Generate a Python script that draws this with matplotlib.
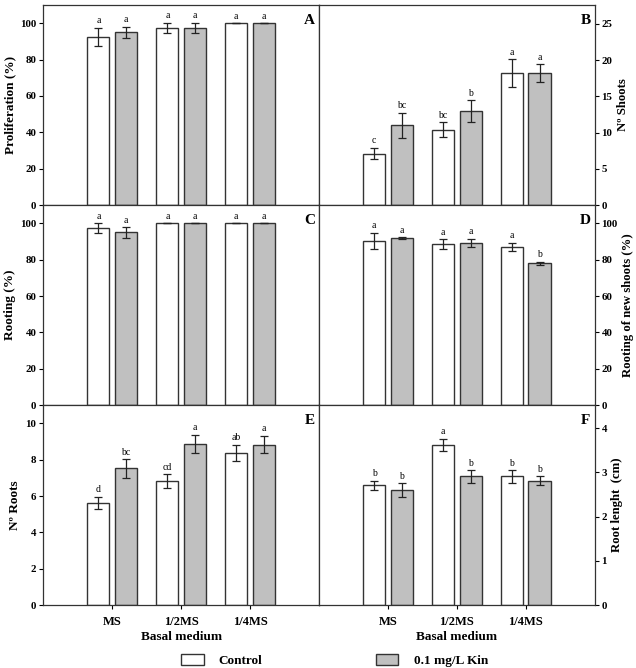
import numpy as np
import matplotlib
matplotlib.use("Agg")
import matplotlib.pyplot as plt
from matplotlib.patches import Patch

plt.rcParams['font.family'] = ['Liberation Serif', 'DejaVu Serif']

media = ["MS", "1/2MS", "1/4MS"]

prolif_ctrl = [92.5, 97.5, 100]
prolif_ctrl_err = [5, 2.7, 0]
prolif_kin = [95, 97.5, 100]
prolif_kin_err = [3, 2.7, 0]
prolif_let = [["a", "a", "a"], ["a", "a", "a"]]

shoots_ctrl = [7.1, 10.4, 18.2]
shoots_ctrl_err = [0.8, 1.05, 1.9]
shoots_kin = [11.0, 13.0, 18.2]
shoots_kin_err = [1.75, 1.5, 1.25]
shoots_let = [["c", "bc", "a"], ["bc", "b", "a"]]

root_ctrl = [97.4, 100, 100]
root_ctrl_err = [2.7, 0, 0]
root_kin = [95, 100, 100]
root_kin_err = [3, 0, 0]
root_let = [["a", "a", "a"], ["a", "a", "a"]]

newroot_ctrl = [90.4, 88.4, 87.1]
newroot_ctrl_err = [4.4, 2.8, 2.2]
newroot_kin = [91.7, 89.3, 78.0]
newroot_kin_err = [0.6, 2.2, 0.9]
newroot_let = [["a", "a", "a"], ["a", "a", "b"]]

nroots_ctrl = [5.63, 6.84, 8.39]
nroots_ctrl_err = [0.33, 0.37, 0.44]
nroots_kin = [7.52, 8.88, 8.83]
nroots_kin_err = [0.5, 0.5, 0.48]
nroots_let = [["d", "cd", "ab"], ["bc", "a", "a"]]

length_ctrl = [2.71, 3.62, 2.91]
length_ctrl_err = [0.1, 0.14, 0.14]
length_kin = [2.60, 2.91, 2.81]
length_kin_err = [0.15, 0.14, 0.1]
length_let = [["b", "a", "b"], ["b", "b", "b"]]

panels = [
    ("A", "Proliferation (%)", prolif_ctrl, prolif_ctrl_err, prolif_kin, prolif_kin_err, prolif_let, 110, np.arange(0, 101, 20)),
    ("B", "Nº Shoots", shoots_ctrl, shoots_ctrl_err, shoots_kin, shoots_kin_err, shoots_let, 27.6, np.arange(0, 26, 5)),
    ("C", "Rooting (%)", root_ctrl, root_ctrl_err, root_kin, root_kin_err, root_let, 110, np.arange(0, 101, 20)),
    ("D", "Rooting of new shoots (%)", newroot_ctrl, newroot_ctrl_err, newroot_kin, newroot_kin_err, newroot_let, 110, np.arange(0, 101, 20)),
    ("E", "Nº Roots", nroots_ctrl, nroots_ctrl_err, nroots_kin, nroots_kin_err, nroots_let, 11, np.arange(0, 11, 2)),
    ("F", "Root lenght  (cm)", length_ctrl, length_ctrl_err, length_kin, length_kin_err, length_let, 4.52, np.arange(0, 5, 1)),
]

fig, axes = plt.subplots(3, 2, figsize=(6.36, 6.68), dpi=100)
fig.subplots_adjust(left=0.068, right=0.935, top=0.9925, bottom=0.094, wspace=0, hspace=0)

x = np.arange(1, 4)
w = 0.32
off = 0.2
edge = "#333333"
gray = "#c0c0c0"

for i, (ax, p) in enumerate(zip(axes.flat, panels)):
    letter, ylab, c, ce, k, ke, lets, ymax, ticks = p
    ax.bar(x - off, c, w, color="white", edgecolor=edge, linewidth=1)
    ax.bar(x + off, k, w, color=gray, edgecolor=edge, linewidth=1)
    ax.errorbar(x - off, c, yerr=ce, fmt="none", ecolor="#222222", elinewidth=0.9, capsize=3, capthick=0.9)
    ax.errorbar(x + off, k, yerr=ke, fmt="none", ecolor="#222222", elinewidth=0.9, capsize=3, capthick=0.9)
    pad = ymax * 0.012
    for j in range(3):
        ax.text(x[j] - off, c[j] + ce[j] + pad, lets[0][j], ha="center", va="bottom", fontsize=7)
        ax.text(x[j] + off, k[j] + ke[j] + pad, lets[1][j], ha="center", va="bottom", fontsize=7)
    ax.set_xlim(0, 4)
    ax.set_ylim(0, ymax)
    ax.set_yticks(ticks)
    ax.set_xticks(x)
    ax.text(0.985, 0.925, letter, transform=ax.transAxes, ha="right", va="center", fontsize=11, fontweight="bold")
    if i % 2 == 1:
        ax.yaxis.tick_right()
        ax.yaxis.set_label_position("right")
        ax.set_ylabel(ylab, fontsize=9.2, fontweight="bold", labelpad=3)
    else:
        ax.set_ylabel(ylab, fontsize=9.5, fontweight="bold", labelpad=3)
    ax.tick_params(axis="both", direction="out", length=3, width=0.8, labelsize=7.8, pad=2)
    for lab in ax.get_yticklabels():
        lab.set_fontweight("bold")
    if i >= 4:
        ax.set_xticklabels(media, fontsize=9, fontweight="bold")
        ax.tick_params(axis="x", pad=5)
        ax.set_xlabel("Basal medium", fontsize=9.5, fontweight="bold", labelpad=2)
    else:
        ax.set_xticklabels([])
    for s in ax.spines.values():
        s.set_color("#333333")
        s.set_linewidth(0.9)

handles = [Patch(facecolor="white", edgecolor=edge, label="Control"),
           Patch(facecolor=gray, edgecolor=edge, label="0.1 mg/L Kin")]
leg = fig.legend(handles=handles, loc="center", bbox_to_anchor=(0.526, 0.0105), ncol=2, frameon=False,
                 prop={"size": 9.5, "weight": "bold"}, columnspacing=8.6, handlelength=1.7,
                 handleheight=0.9, handletextpad=1.15, borderaxespad=0, borderpad=0)

fig.savefig("out.png", dpi=100)
